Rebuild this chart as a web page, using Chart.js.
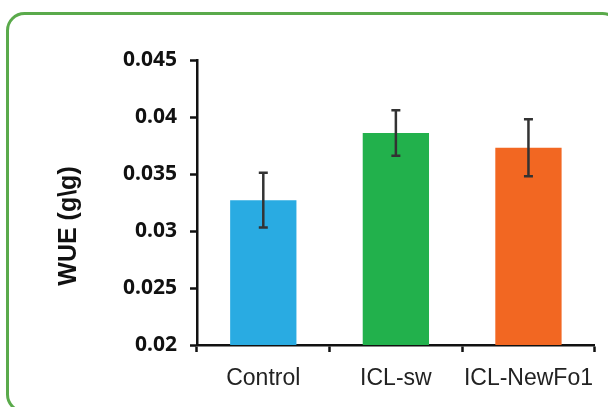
<!DOCTYPE html>
<html>
<head>
<meta charset="utf-8">
<script src="https://cdn.jsdelivr.net/npm/chart.js@4"></script>
<style>
  html, body { margin: 0; padding: 0; background: #fff; overflow: hidden; }
  #wrap { position: absolute; left: 0; top: 0; width: 608px; height: 407px; }
</style>
</head>
<body>
<div id="wrap"><canvas id="chart" width="608" height="407"></canvas></div>
<script>
const categories = ['Control', 'ICL-sw', 'ICL-NewFo1'];
const wueValues = [0.0327, 0.0386, 0.0373];
const wueErrors = [0.0024, 0.0020, 0.0025];
const barColors = ['#29abe2', '#22b14c', '#f26722'];
const yTickLabels = ['0.02', '0.025', '0.03', '0.035', '0.04', '0.045'];
const yTitle = 'WUE (g\\g)';

// green rounded frame around the figure (runs off the right and bottom edges)
const frame = {
  id: 'frame',
  beforeDraw(chart) {
    const ctx = chart.ctx;
    ctx.save();
    ctx.strokeStyle = '#5aaa4b';
    ctx.lineWidth = 3;
    ctx.beginPath();
    ctx.roundRect(7.5, 13.5, 612, 398, 17);
    ctx.stroke();
    ctx.restore();
  }
};

// error bars drawn through the y scale
const errorBars = {
  id: 'errorBars',
  afterDatasetsDraw(chart) {
    const ctx = chart.ctx;
    const y = chart.scales.y;
    const meta = chart.getDatasetMeta(0);
    ctx.save();
    ctx.strokeStyle = '#333';
    ctx.lineWidth = 2.5;
    meta.data.forEach((bar, i) => {
      const top = y.getPixelForValue(wueValues[i] + wueErrors[i]);
      const bot = y.getPixelForValue(wueValues[i] - wueErrors[i]);
      ctx.beginPath();
      ctx.moveTo(bar.x, top);
      ctx.lineTo(bar.x, bot);
      ctx.moveTo(bar.x - 4.5, top);
      ctx.lineTo(bar.x + 4.5, top);
      ctx.moveTo(bar.x - 4.5, bot);
      ctx.lineTo(bar.x + 4.5, bot);
      ctx.stroke();
    });
    ctx.restore();
  }
};

// rotated axis title, placed a bit below the axis centre like the original
const axisTitle = {
  id: 'axisTitle',
  afterDraw(chart) {
    const ctx = chart.ctx;
    ctx.save();
    ctx.translate(69, 226);
    ctx.rotate(-Math.PI / 2);
    ctx.font = 'bold 25px "Liberation Sans", Arial, sans-serif';
    ctx.fillStyle = '#111';
    ctx.textAlign = 'center';
    ctx.textBaseline = 'middle';
    ctx.fillText(yTitle, 0, 0);
    ctx.restore();
  }
};

new Chart(document.getElementById('chart'), {
  type: 'bar',
  data: {
    labels: categories,
    datasets: [{
      data: wueValues,
      backgroundColor: barColors,
      borderWidth: 0,
      barPercentage: 0.5,
      categoryPercentage: 1
    }]
  },
  options: {
    responsive: false,
    animation: false,
    layout: { padding: { top: 60, right: 12, left: 0, bottom: 0 } },
    plugins: {
      legend: { display: false },
      tooltip: { enabled: false }
    },
    scales: {
      x: {
        afterFit: s => { s.height = 62; },
        grid: {
          offset: true,
          drawOnChartArea: false,
          drawTicks: true,
          tickLength: 7,
          tickWidth: 2.5,
          tickColor: '#111'
        },
        border: { color: '#111', width: 2.5 },
        ticks: {
          color: '#222',
          padding: 13,
          autoSkip: false,
          maxRotation: 0,
          minRotation: 0,
          font: { family: '"Liberation Sans", Arial, sans-serif', size: 23 }
        }
      },
      y: {
        min: 0.02,
        max: 0.045,
        afterFit: s => { s.width = 197; },
        grid: {
          drawOnChartArea: false,
          drawTicks: true,
          tickLength: 7,
          tickWidth: 2.5,
          tickColor: '#111'
        },
        border: { color: '#111', width: 2.5 },
        ticks: {
          stepSize: 0.005,
          padding: 13,
          color: '#111',
          font: { family: '"Noto Sans", sans-serif', size: 21, weight: 'bold' },
          callback: (v, i) => yTickLabels[i]
        }
      }
    }
  },
  plugins: [frame, errorBars, axisTitle]
});
</script>
</body>
</html>
